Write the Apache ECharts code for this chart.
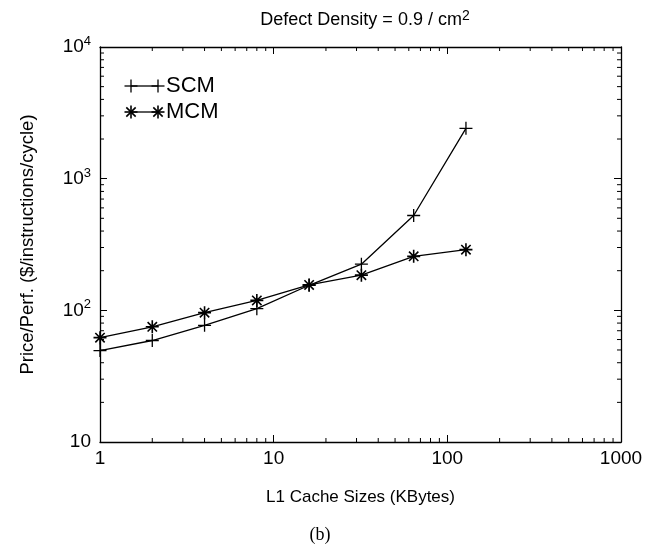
<!DOCTYPE html>
<html>
<head>
<meta charset="UTF-8">
<title>Defect Density</title>
<style>
  body { margin: 0; background: #fff; }
  #chart { width: 652px; height: 547px; }
</style>
<script src="https://cdn.jsdelivr.net/npm/echarts@6/dist/echarts.min.js"></script>
</head>
<body>
<div id="chart"></div>
<script>
// data
const cacheSizes = [1, 2, 4, 8, 16, 32, 64, 128];
const scmValues = [49.5, 59, 77, 103, 155, 224, 525, 2410];
const mcmValues = [62, 75, 96, 119, 156, 185, 257, 289];
const xTicks = [1, 10, 100, 1000];

const FONT = 'Liberation Sans, Arial, sans-serif';
const plusPath = 'path://M0,-1L0,1M-1,0L1,0';
const starPath = 'path://M0,-1L0,1M-1,0L1,0M-0.72,-0.72L0.72,0.72M-0.72,0.72L0.72,-0.72';

const chart = echarts.init(document.getElementById('chart'));

function yLabel(v) {
  const e = Math.round(Math.log10(v));
  if (e === 1) return '{b|10}';
  return '{b|10}{s|' + e + '}';
}

const tickStyle = { show: true, inside: true, length: 7, lineStyle: { color: '#000', width: 1 } };
const lineStyle = { show: true, onZero: false, lineStyle: { color: '#000', width: 1.3 } };

function pts(vals) {
  return cacheSizes.map((x, i) => [x, vals[i]]);
}

chart.setOption({
  animation: false,
  backgroundColor: '#fff',
  title: {
    text: 'Defect Density = 0.9 / cm{s|2}',
    left: 360, top: 4, textAlign: 'center',
    textStyle: {
      fontFamily: FONT, fontSize: 18, fontWeight: 'normal', color: '#000',
      rich: { s: { fontFamily: FONT, fontSize: 14, verticalAlign: 'top', padding: [0, 0, 8, 0], color: '#000' } }
    }
  },
  grid: { left: 100, right: 31, top: 47, bottom: 105 },
  xAxis: [{
    type: 'log', logBase: 10, min: 1, max: 1000,
    position: 'bottom',
    axisLine: lineStyle, axisTick: tickStyle, splitLine: { show: false },
    axisLabel: { color: '#000', fontFamily: FONT, fontSize: 19, margin: 7,
      customValues: xTicks, formatter: v => String(Math.round(v)) },
    name: 'L1 Cache Sizes (KBytes)', nameLocation: 'middle', nameGap: 47,
    nameTextStyle: { color: '#000', fontFamily: FONT, fontSize: 17 }
  }, {
    type: 'log', logBase: 10, min: 1, max: 1000,
    position: 'top',
    axisLine: lineStyle, axisTick: tickStyle, splitLine: { show: false },
    axisLabel: { show: false }
  }],
  yAxis: [{
    type: 'log', logBase: 10, min: 10, max: 10000,
    position: 'left',
    axisLine: lineStyle, axisTick: tickStyle, splitLine: { show: false },
    axisLabel: {
      color: '#000', margin: 9, formatter: yLabel,
      rich: {
        b: { fontFamily: FONT, fontSize: 19, color: '#000' },
        s: { fontFamily: FONT, fontSize: 13, color: '#000', verticalAlign: 'top', padding: [0, 0, 11, 0] }
      }
    },
    name: 'Price/Perf. ($/instructions/cycle)', nameLocation: 'middle', nameGap: 63,
    nameRotate: 90,
    nameTextStyle: { color: '#000', fontFamily: FONT, fontSize: 18.5 }
  }, {
    type: 'log', logBase: 10, min: 10, max: 10000,
    position: 'right',
    axisLine: lineStyle, axisTick: tickStyle, splitLine: { show: false },
    axisLabel: { show: false }
  }],
  series: [{
    name: 'SCM', type: 'line', data: pts(scmValues),
    symbol: plusPath, symbolSize: 13,
    lineStyle: { color: '#000', width: 1.3 },
    itemStyle: { color: 'none', borderColor: '#000', borderWidth: 1.3 }
  }, {
    name: 'MCM', type: 'line', data: pts(mcmValues),
    symbol: starPath, symbolSize: 13,
    lineStyle: { color: '#000', width: 1.3 },
    itemStyle: { color: 'none', borderColor: '#000', borderWidth: 1.6 }
  }]
});

// minor ticks on all four sides, plus legend and caption
const g = [];
const bl = chart.convertToPixel({ gridIndex: 0 }, [1, 10]);
const tr = chart.convertToPixel({ gridIndex: 0 }, [1000, 10000]);
const minorStyle = { stroke: '#000', lineWidth: 1 };
for (let d = 1; d <= 100; d *= 10) {
  for (let k = 2; k <= 9; k++) {
    const x = chart.convertToPixel({ xAxisIndex: 0 }, k * d);
    g.push({ type: 'line', shape: { x1: x, y1: bl[1], x2: x, y2: bl[1] - 4 }, style: minorStyle });
    g.push({ type: 'line', shape: { x1: x, y1: tr[1], x2: x, y2: tr[1] + 4 }, style: minorStyle });
  }
}
for (let d = 10; d <= 1000; d *= 10) {
  for (let k = 2; k <= 9; k++) {
    const y = chart.convertToPixel({ yAxisIndex: 0 }, k * d);
    g.push({ type: 'line', shape: { x1: bl[0], y1: y, x2: bl[0] + 4, y2: y }, style: minorStyle });
    g.push({ type: 'line', shape: { x1: tr[0], y1: y, x2: tr[0] - 4, y2: y }, style: minorStyle });
  }
}

// legend drawn by hand: a marker at each end of the sample line
function marker(cx, cy, star) {
  const r = 6.5;
  const w = star ? 1.6 : 1.3;
  const st = { stroke: '#000', lineWidth: w };
  g.push({ type: 'line', shape: { x1: cx - r, y1: cy, x2: cx + r, y2: cy }, style: st });
  g.push({ type: 'line', shape: { x1: cx, y1: cy - r, x2: cx, y2: cy + r }, style: st });
  if (star) {
    const q = r * 0.72;
    g.push({ type: 'line', shape: { x1: cx - q, y1: cy - q, x2: cx + q, y2: cy + q }, style: st });
    g.push({ type: 'line', shape: { x1: cx - q, y1: cy + q, x2: cx + q, y2: cy - q }, style: st });
  }
}
const legendItems = [['SCM', false, 86], ['MCM', true, 112]];
legendItems.forEach(([label, star, y]) => {
  g.push({ type: 'line', shape: { x1: 131, y1: y, x2: 158, y2: y }, style: { stroke: '#000', lineWidth: 1.3 } });
  marker(131, y, star);
  marker(158, y, star);
  g.push({ type: 'text', x: 166, y: y, style: { text: label, font: '22px ' + FONT, fill: '#000', textVerticalAlign: 'middle' } });
});

g.push({ type: 'text', x: 320, y: 535, style: { text: '(b)', font: '18px Liberation Serif, Times New Roman, serif', fill: '#000', textAlign: 'center', textVerticalAlign: 'middle' } });

chart.setOption({ graphic: g });
</script>
</body>
</html>
